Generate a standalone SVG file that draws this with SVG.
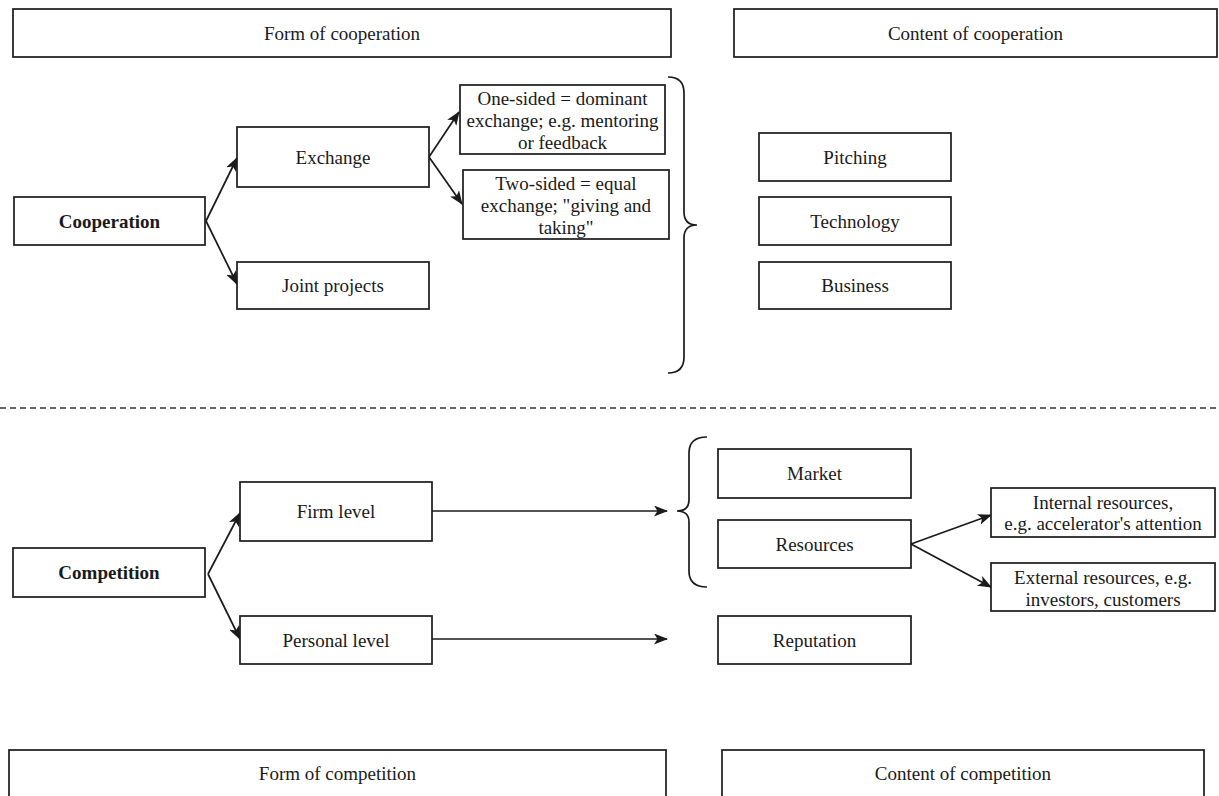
<svg xmlns="http://www.w3.org/2000/svg" width="1219" height="796" viewBox="0 0 1219 796">
<style>
.b{fill:#fff;stroke:#1a1a1a;stroke-width:1.7}
.t{font-family:"Liberation Serif","Times New Roman",serif;font-size:19px;fill:#1a1a1a;text-anchor:middle}
.bold{font-weight:bold}
.c{fill:none;stroke:#1a1a1a;stroke-width:1.7}
.br{fill:none;stroke:#1a1a1a;stroke-width:1.7}
.d{fill:none;stroke:#333;stroke-width:1.6;stroke-dasharray:6 4}
</style>
<defs>
<marker id="ah" viewBox="0 0 14 11" refX="13" refY="5.5" markerWidth="14" markerHeight="11" markerUnits="userSpaceOnUse" orient="auto">
<path d="M0,0 L14,5.5 L0,11 L3.5,5.5 z" fill="#1a1a1a"/>
</marker>
</defs>
<rect width="1219" height="796" fill="#fff"/>

<g id="hdr-form-coop"><rect class="b" x="13" y="9" width="658" height="48"/><text class="t" x="342" y="39.5">Form of cooperation</text></g>
<g id="hdr-content-coop"><rect class="b" x="734" y="9" width="483" height="48"/><text class="t" x="975.5" y="39.5">Content of cooperation</text></g>

<g id="connectors">
<line class="c" x1="206" y1="221" x2="237" y2="158" marker-end="url(#ah)"/>
<line class="c" x1="206" y1="221" x2="237" y2="284" marker-end="url(#ah)"/>
<line class="c" x1="429" y1="157" x2="459" y2="112" marker-end="url(#ah)"/>
<line class="c" x1="429" y1="157" x2="462" y2="204" marker-end="url(#ah)"/>
<line class="c" x1="208" y1="574" x2="240" y2="513" marker-end="url(#ah)"/>
<line class="c" x1="208" y1="574" x2="240" y2="639" marker-end="url(#ah)"/>
<line class="c" x1="432" y1="511" x2="667" y2="511" marker-end="url(#ah)"/>
<line class="c" x1="432" y1="639" x2="667" y2="639" marker-end="url(#ah)"/>
<line class="c" x1="911" y1="544" x2="991" y2="515" marker-end="url(#ah)"/>
<line class="c" x1="911" y1="544" x2="991" y2="587" marker-end="url(#ah)"/>
</g>

<g id="brace-coop"><path class="br" d="M668,77 Q684,77 684,93 L684,212 Q684,225 697,225 Q684,225 684,238 L684,357 Q684,373 668,373"/></g>
<g id="brace-comp"><path class="br" d="M707,437 Q689,437 689,453 L689,500 Q689,511 677,511 Q689,511 689,522 L689,571 Q689,587 707,587"/></g>

<g id="cooperation"><rect class="b" x="14" y="197" width="191" height="48"/><text class="t bold" x="109.5" y="227.5">Cooperation</text></g>
<g id="exchange"><rect class="b" x="237" y="127" width="192" height="60"/><text class="t" x="333" y="163.5">Exchange</text></g>
<g id="joint-projects"><rect class="b" x="237" y="262" width="192" height="47"/><text class="t" x="333" y="292">Joint projects</text></g>
<g id="one-sided"><rect class="b" x="460" y="85" width="205" height="69"/><text class="t" x="562.5" y="105">One-sided = dominant</text><text class="t" x="562.5" y="127">exchange; e.g. mentoring</text><text class="t" x="562.5" y="149">or feedback</text></g>
<g id="two-sided"><rect class="b" x="463" y="170" width="206" height="69"/><text class="t" x="566" y="190">Two-sided = equal</text><text class="t" x="566" y="212">exchange; "giving and</text><text class="t" x="566" y="234">taking"</text></g>
<g id="pitching"><rect class="b" x="759" y="133" width="192" height="48"/><text class="t" x="855" y="163.5">Pitching</text></g>
<g id="technology"><rect class="b" x="759" y="197" width="192" height="48"/><text class="t" x="855" y="227.5">Technology</text></g>
<g id="business"><rect class="b" x="759" y="262" width="192" height="47"/><text class="t" x="855" y="292">Business</text></g>

<line id="divider" class="d" x1="0" y1="408" x2="1219" y2="408"/>

<g id="competition"><rect class="b" x="13" y="548" width="192" height="49"/><text class="t bold" x="109" y="579">Competition</text></g>
<g id="firm-level"><rect class="b" x="240" y="482" width="192" height="59"/><text class="t" x="336" y="518">Firm level</text></g>
<g id="personal-level"><rect class="b" x="240" y="616" width="192" height="48"/><text class="t" x="336" y="646.5">Personal level</text></g>
<g id="market"><rect class="b" x="718" y="449" width="193" height="49"/><text class="t" x="814.5" y="480">Market</text></g>
<g id="resources"><rect class="b" x="718" y="520" width="193" height="48"/><text class="t" x="814.5" y="550.5">Resources</text></g>
<g id="reputation"><rect class="b" x="718" y="616" width="193" height="48"/><text class="t" x="814.5" y="646.5">Reputation</text></g>
<g id="internal"><rect class="b" x="991" y="488" width="224" height="49"/><text class="t" x="1103" y="509">Internal resources,</text><text class="t" x="1103" y="530">e.g. accelerator's attention</text></g>
<g id="external"><rect class="b" x="991" y="563" width="224" height="48"/><text class="t" x="1103" y="584">External resources, e.g.</text><text class="t" x="1103" y="606">investors, customers</text></g>

<g id="hdr-form-comp"><rect class="b" x="9" y="750" width="657" height="50"/><text class="t" x="337.5" y="780">Form of competition</text></g>
<g id="hdr-content-comp"><rect class="b" x="722" y="750" width="482" height="50"/><text class="t" x="963" y="780">Content of competition</text></g>
</svg>
